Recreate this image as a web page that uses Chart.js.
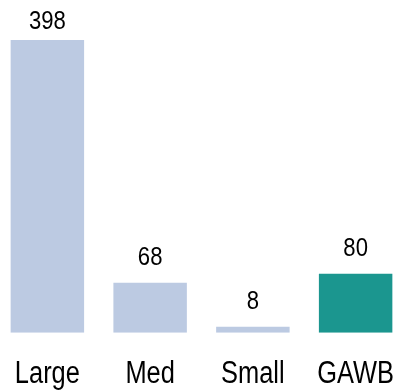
<!DOCTYPE html>
<html>
<head>
<meta charset="utf-8">
<script src="https://cdn.jsdelivr.net/npm/chart.js@4/dist/chart.umd.min.js"></script>
<style>
  html, body { margin: 0; padding: 0; background: #fff; overflow: hidden; width: 398px; height: 390px; }
  #wrap { position: absolute; left: -4px; top: 0; width: 411px; height: 390px; }
</style>
</head>
<body>
<div id="wrap"><canvas id="c"></canvas></div>
<script>
const categories = ['Large', 'Med', 'Small', 'GAWB'];
const counts = [398, 68, 8, 80];
const barColors = ['#BCCAE2', '#BCCAE2', '#BCCAE2', '#1B968F'];

const FONT = "'Liberation Sans', Arial, sans-serif";

// Draw text squeezed horizontally to give a narrow face
function narrowText(ctx, text, x, y, size, squeeze) {
  ctx.save();
  ctx.font = size + 'px ' + FONT;
  ctx.fillStyle = '#000';
  ctx.textAlign = 'center';
  ctx.textBaseline = 'alphabetic';
  ctx.translate(x, y);
  ctx.scale(squeeze, 1);
  ctx.fillText(text, 0, 0);
  ctx.restore();
}

// Value labels above each bar (kept inside the top margin for the tallest bar)
// and category names under the axis
const barText = {
  id: 'barText',
  afterDatasetsDraw(chart) {
    const ctx = chart.ctx;
    const meta = chart.getDatasetMeta(0);
    const xScale = chart.scales.x;
    meta.data.forEach((bar, i) => {
      const y = Math.max(bar.y - 17.5, 29.3);
      narrowText(ctx, String(chart.data.datasets[0].data[i]), bar.x, y, 26, 0.85);
    });
    chart.data.labels.forEach((label, i) => {
      narrowText(ctx, label, xScale.getPixelForValue(i), xScale.bottom - 6.7, 31, 0.82);
    });
  }
};

new Chart(document.getElementById('c'), {
  type: 'bar',
  data: {
    labels: categories,
    datasets: [{
      data: counts,
      backgroundColor: barColors,
      borderWidth: 0,
      categoryPercentage: 1,
      barPercentage: 0.715
    }]
  },
  options: {
    responsive: true,
    maintainAspectRatio: false,
    animation: false,
    devicePixelRatio: 1,
    layout: { padding: 0 },
    plugins: { legend: { display: false }, tooltip: { enabled: false } },
    scales: {
      x: {
        grid: { display: false, drawTicks: false },
        border: { display: false },
        ticks: { display: false },
        afterFit(scale) { scale.height = 57.3; }
      },
      y: {
        display: false,
        min: 0,
        max: 452.4
      }
    }
  },
  plugins: [barText]
});
</script>
</body>
</html>
